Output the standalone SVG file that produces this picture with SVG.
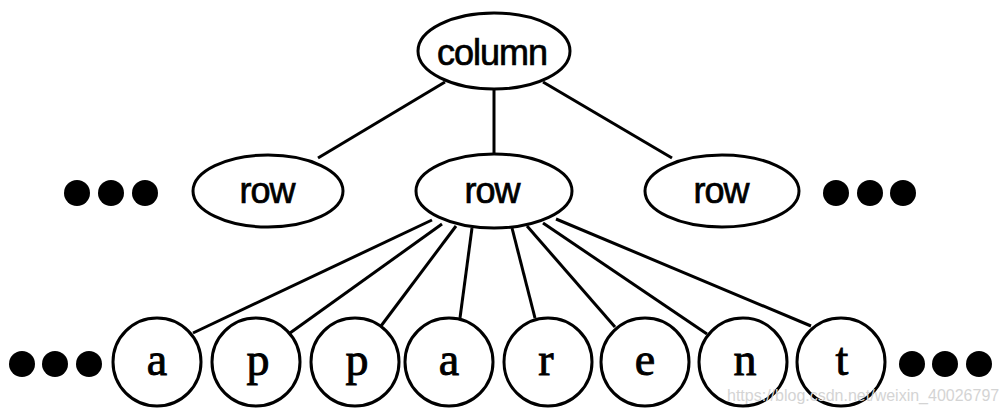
<svg xmlns="http://www.w3.org/2000/svg" width="1008" height="414" viewBox="0 0 1008 414">
<style>
.sh{fill:#fff;stroke:#000;stroke-width:3}
.dot{fill:#000}
.sans{font-family:"Liberation Sans",Arial,sans-serif;font-size:36px;text-anchor:middle;fill:#000;stroke:#000;stroke-width:0.7;letter-spacing:-1px}
.serif{font-family:"Liberation Serif","Times New Roman",serif;font-size:46px;text-anchor:middle;fill:#000;stroke:#000;stroke-width:0.9}
.wm{font-family:"Liberation Sans",Arial,sans-serif;font-size:16px;fill:#d4d4d4}
#edges line{stroke:#000;stroke-width:3}
</style>
<rect width="1008" height="414" fill="#fff"/>
<g id="edges">
<line x1="445" y1="82" x2="318" y2="158"/>
<line x1="494" y1="88" x2="494" y2="156"/>
<line x1="543" y1="82" x2="672" y2="158"/>
<line x1="432" y1="220" x2="193" y2="333"/>
<line x1="442" y1="224" x2="290" y2="333"/>
<line x1="456" y1="226" x2="381" y2="326"/>
<line x1="472" y1="228" x2="460" y2="318"/>
<line x1="512" y1="228" x2="535" y2="318"/>
<line x1="527" y1="226" x2="615" y2="327"/>
<line x1="543" y1="223" x2="707" y2="334"/>
<line x1="556" y1="219" x2="811" y2="326"/>
</g>
<g id="column"><ellipse class="sh" cx="494" cy="51" rx="76" ry="38"/><text class="sans" x="492" y="65">column</text></g>
<g id="row1"><ellipse class="sh" cx="268" cy="191" rx="75" ry="36"/><text class="sans" x="267" y="203">row</text></g>
<g id="row2"><ellipse class="sh" cx="494" cy="191" rx="78" ry="37"/><text class="sans" x="492" y="203">row</text></g>
<g id="row3"><ellipse class="sh" cx="722" cy="191" rx="77" ry="36"/><text class="sans" x="721" y="203">row</text></g>
<g id="dots-left"><circle class="dot" cx="77" cy="193" r="13"/><circle class="dot" cx="111" cy="193" r="13"/><circle class="dot" cx="145" cy="193" r="13"/></g>
<g id="dots-right"><circle class="dot" cx="836" cy="193" r="13"/><circle class="dot" cx="870" cy="193" r="13"/><circle class="dot" cx="903" cy="193" r="13"/></g>
<g id="c-a1"><circle class="sh" cx="157" cy="362" r="44"/><text class="serif" x="157" y="375">a</text></g>
<g id="c-p1"><circle class="sh" cx="256" cy="362" r="44"/><text class="serif" x="258" y="375">p</text></g>
<g id="c-p2"><circle class="sh" cx="355" cy="362" r="44"/><text class="serif" x="357" y="375">p</text></g>
<g id="c-a2"><circle class="sh" cx="449" cy="362" r="44"/><text class="serif" x="449" y="375">a</text></g>
<g id="c-r"><circle class="sh" cx="548" cy="362" r="44"/><text class="serif" x="546" y="375">r</text></g>
<g id="c-e"><circle class="sh" cx="645" cy="362" r="44"/><text class="serif" x="645" y="375">e</text></g>
<g id="c-n"><circle class="sh" cx="743" cy="362" r="44"/><text class="serif" x="745" y="375">n</text></g>
<g id="c-t"><circle class="sh" cx="841" cy="362" r="44"/><text class="serif" x="842" y="375">t</text></g>
<g id="dots-bl"><circle class="dot" cx="22" cy="364" r="13"/><circle class="dot" cx="55" cy="364" r="13"/><circle class="dot" cx="89" cy="364" r="13"/></g>
<g id="dots-br"><circle class="dot" cx="912" cy="364" r="13"/><circle class="dot" cx="945" cy="364" r="13"/><circle class="dot" cx="979" cy="364" r="13"/></g>
<text class="wm" x="727" y="401">https://blog.csdn.net/weixin_40026797</text>
</svg>
